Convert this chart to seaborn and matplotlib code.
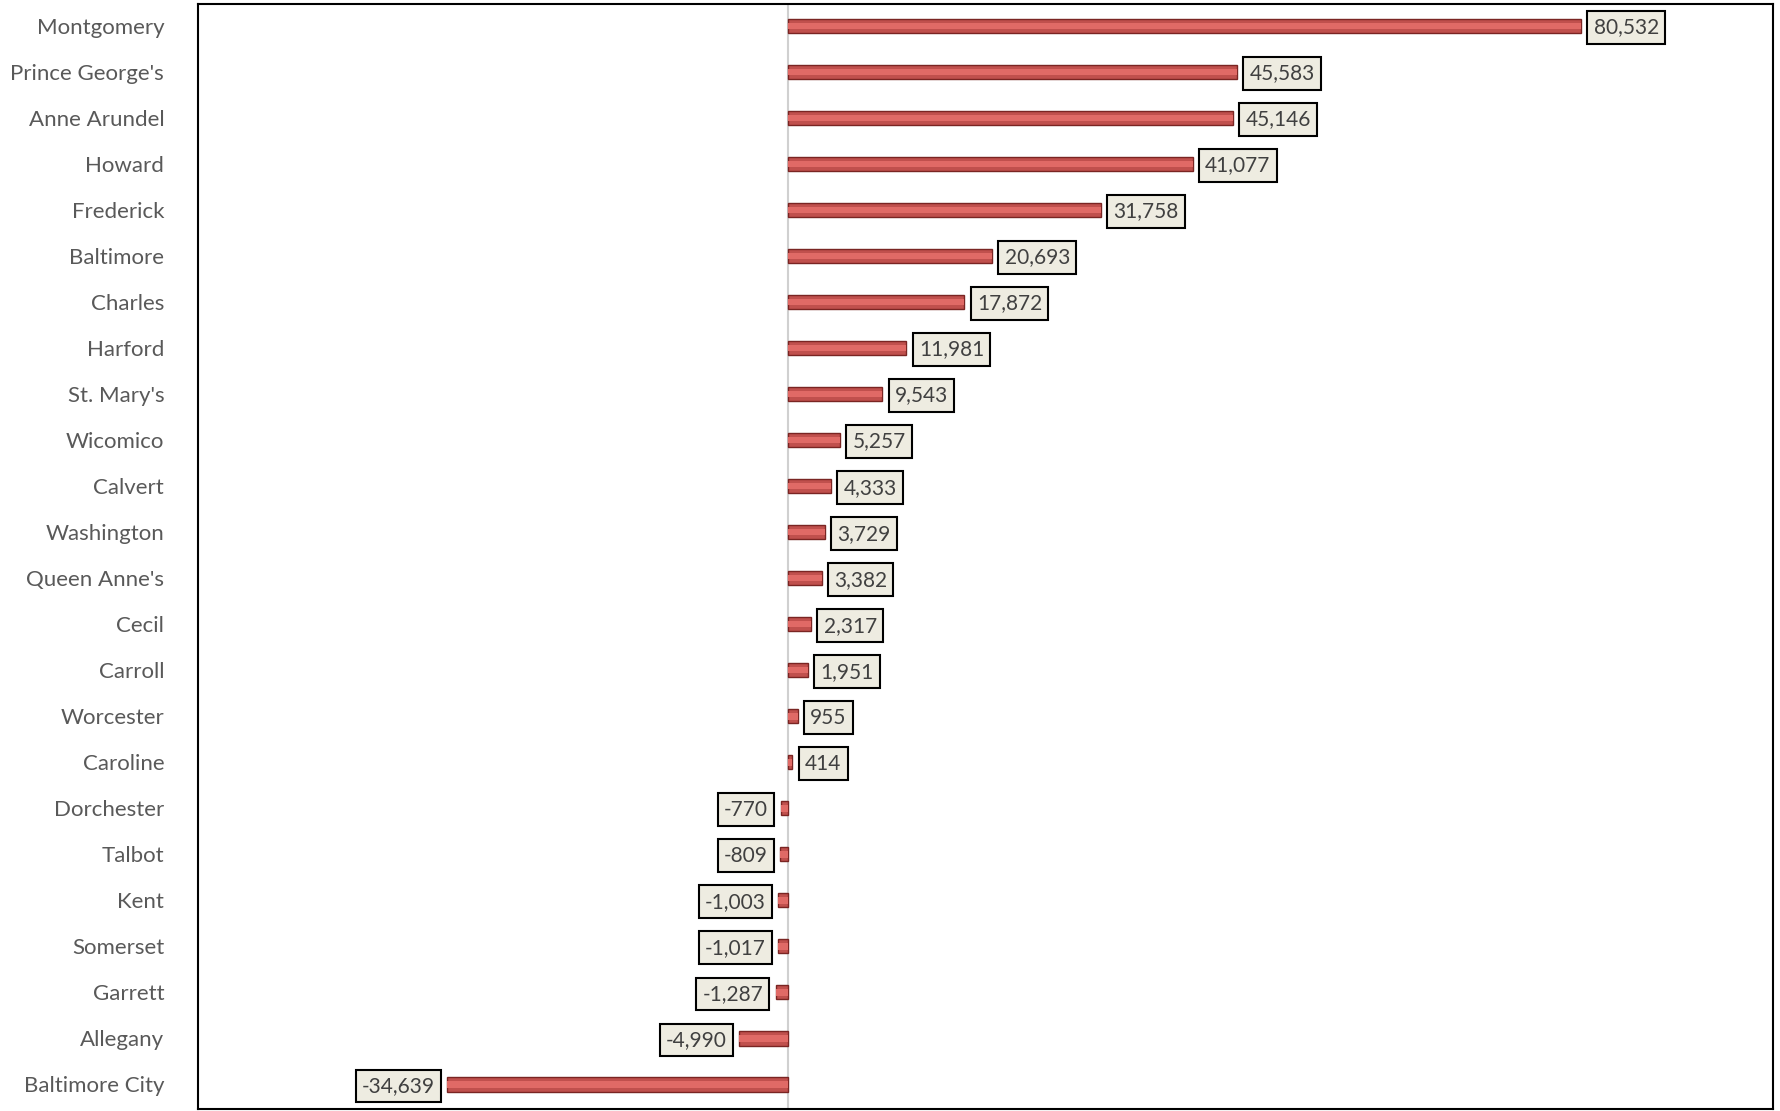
import matplotlib
matplotlib.use("Agg")
import matplotlib.pyplot as plt
import seaborn as sns
import pandas as pd

counties = ["Montgomery", "Prince George's", "Anne Arundel", "Howard", "Frederick",
            "Baltimore", "Charles", "Harford", "St. Mary's", "Wicomico", "Calvert",
            "Washington", "Queen Anne's", "Cecil", "Carroll", "Worcester", "Caroline",
            "Dorchester", "Talbot", "Kent", "Somerset", "Garrett", "Allegany",
            "Baltimore City"]
change = [80532, 45583, 45146, 41077, 31758, 20693, 17872, 11981, 9543, 5257, 4333,
          3729, 3382, 2317, 1951, 955, 414, -770, -809, -1003, -1017, -1287, -4990,
          -34639]

df = pd.DataFrame({"county": counties, "change": change})

sns.set_style("white")
plt.rcParams["font.family"] = ["Lato", "DejaVu Sans"]

fig = plt.figure(figsize=(17.8, 11.11), dpi=100)
ax = fig.add_axes([0.111, 0.002, 0.885, 0.994])

# main bar + lighter stripe for a bit of the bevel look
sns.barplot(data=df, x="change", y="county", orient="h", color="#C0504D",
            width=0.31, edgecolor="#7A2523", linewidth=1.0, saturation=1, ax=ax)
sns.barplot(data=df, x="change", y="county", orient="h", color="#E06A66",
            width=0.14, linewidth=0, saturation=1, ax=ax)

ax.axvline(0, color="#D0D0D0", lw=1.5, zorder=0)
ax.set_xlim(-60000, 100000)
ax.set_ylim(len(counties) - 0.47, -0.47)
ax.set_xlabel("")
ax.set_ylabel("")
ax.set_xticks([])
ax.tick_params(axis="y", length=0, pad=24, labelsize=16, labelcolor="#595959")
for s in ax.spines.values():
    s.set_visible(True)
    s.set_color("black")
    s.set_linewidth(1.5)

for i, v in enumerate(change):
    ax.annotate(f"{v:,}", xy=(v, i), xytext=(9 if v >= 0 else -9, -1),
                textcoords="offset points", va="center",
                ha="left" if v >= 0 else "right", fontsize=15, color="#404040",
                bbox=dict(boxstyle="square,pad=0.3", fc="#EEECE1", ec="black", lw=1.5))

fig.savefig("out.png", dpi=100)
